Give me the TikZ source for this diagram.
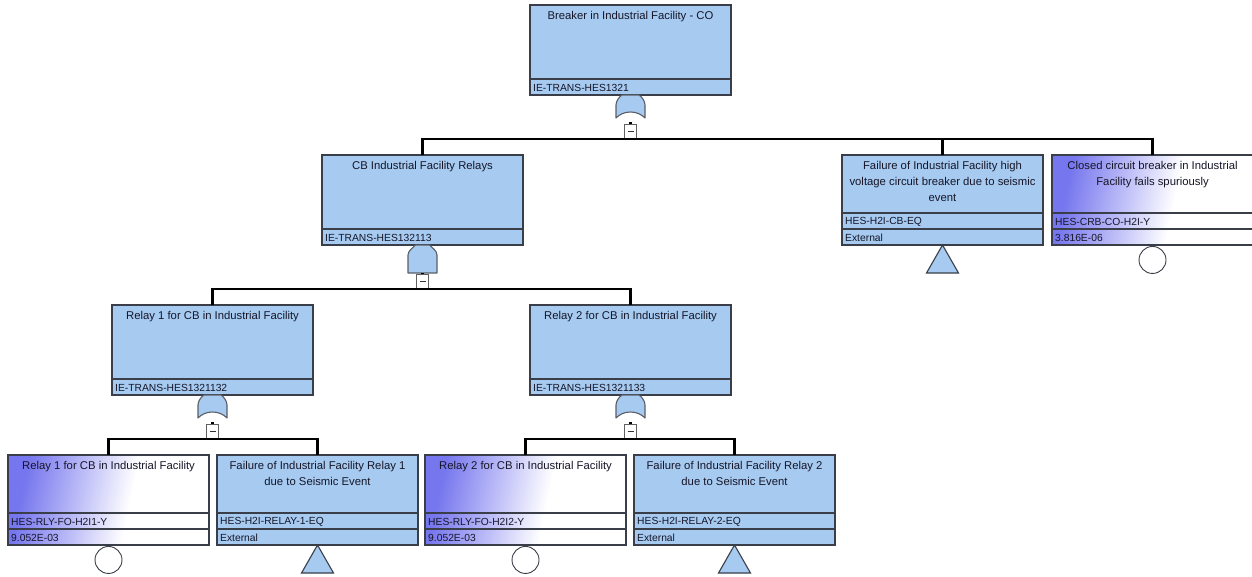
\documentclass[tikz,border=0pt]{standalone}
\usepackage{fontspec}
\setmainfont{Liberation Sans}
\definecolor{boxfill}{RGB}{166,202,240}
\definecolor{boxline}{RGB}{58,62,72}
\definecolor{evblue}{RGB}{118,118,238}
\definecolor{evmid}{RGB}{190,190,248}
\definecolor{txt}{RGB}{22,22,40}
\definecolor{gateline}{RGB}{90,94,104}
% basic event fill: violet at the upper left fading to white
\pgfdeclarehorizontalshading{evshade}{100bp}{color(0bp)=(evblue); color(26bp)=(evblue); color(42bp)=(evmid); color(56bp)=(white); color(100bp)=(white)}

% intermediate event box: title, one row with its id
\newcommand\mkgate[5]{%
  \node[gbox] (#1) at (#2,#3) {};
  \draw[divline] (#2,#3+74) -- (#2+201,#3+74);
  \node[ttl] (#1-t) at (#2+100.5,#3+6) {#4};
  \node[rowtxt] (#1-id) at (#2+3,#3+82.5) {#5};
}
% basic / external event box: title, id row, value row
\newcommand\mkevent[7]{%
  \node[#4] (#1) at (#2,#3) {};
  \draw[divline] (#2,#3+58) -- (#2+201,#3+58);
  \draw[divline] (#2,#3+74) -- (#2+201,#3+74);
  \node[ttl] (#1-t) at (#2+100.5,#3+6) {#5};
  \node[rowtxt] (#1-id) at (#2+3,#3+66.5) {#6};
  \node[rowtxt] (#1-v) at (#2+3,#3+82.5) {#7};
}

\begin{document}
\begin{tikzpicture}[x=1pt,y=-1pt,
  gbox/.style={draw=boxline, line width=1.3pt, fill=boxfill, minimum width=201pt,
    minimum height=90pt, inner sep=0pt, outer sep=0pt, anchor=north west},
  basicbox/.style={gbox, fill=none, shade, shading=evshade, shading angle=-12},
  divline/.style={draw=boxline, line width=1.3pt},
  ttl/.style={text=txt, font=\fontsize{11.3}{16}\selectfont, align=center,
    inner sep=0pt, anchor=north},
  rowtxt/.style={text=txt, font=\fontsize{10.3}{12}\selectfont, inner sep=0pt, anchor=west},
  gatefill/.style={draw=gateline, line width=1.1pt, fill=boxfill, line join=round},
  mbox/.style={draw=gray!75!black, fill=white, line width=0.8pt, minimum width=12pt,
    minimum height=14pt, inner sep=0pt},
  dotn/.style={fill=black, minimum size=2.6pt, inner sep=0pt},
  conn/.style={draw=black, line width=2.6pt},
  evcirc/.style={circle, draw=boxline, line width=0.9pt, fill=white, minimum size=27pt,
    inner sep=0pt, anchor=north},
  tri/.style={draw=boxline, line width=1.1pt, fill=boxfill, line join=miter},
  orgate/.pic={\draw[gatefill] (-8.5,0) -- (8.5,0) .. controls (11,1.5) and (14.5,6) .. (14.5,10)
      -- (14.5,23) .. controls (7,15) and (-7,15) .. (-14.5,23) -- (-14.5,10)
      .. controls (-14.5,6) and (-11,1.5) .. (-8.5,0) -- cycle;},
  andgate/.pic={\draw[gatefill] (-7,0) -- (7,0) .. controls (10,3) and (14.5,6) .. (14.5,10)
      -- (14.5,28) -- (-14.5,28) -- (-14.5,10) .. controls (-14.5,6) and (-10,3) .. (-7,0) -- cycle;},
  minus/.style={mbox, node contents={\textcolor{black!80}{\rule{6pt}{1.1pt}}}}
]
\useasboundingbox (0,0) rectangle (1252,576);

% ---- top event ----
\mkgate{top}{530}{5}{Breaker in Industrial Facility - CO}{IE-TRANS-HES1321}
\pic at (top.south) {orgate};
\node[dotn] (d1) at ([yshift=-28pt]top.south) {};
\node (m1) at ([yshift=-36.5pt]top.south) [minus];
\coordinate (j1) at ([yshift=-44pt]top.south);

% ---- second level ----
\mkgate{cbrel}{322}{155}{CB Industrial Facility Relays}{IE-TRANS-HES132113}
\mkevent{hv}{842}{155}{gbox}{Failure of Industrial Facility high\\voltage circuit breaker due to seismic\\event}{HES-H2I-CB-EQ}{External}
\mkevent{closed}{1052}{155}{basicbox}{Closed circuit breaker in Industrial\\Facility fails spuriously}{HES-CRB-CO-H2I-Y}{3.816E-06}

\draw[conn] (m1.south) -- (j1);
\draw[conn] (cbrel.north) |- (j1) -| (closed.north);
\draw[conn] (hv.north) -- (hv.north |- j1);

\draw[tri] (hv.south) -- ++(16,28) -- ++(-32,0) -- cycle;
\node[evcirc] (closed-c) at ([yshift=-1pt]closed.south) {};

\pic at (cbrel.south) {andgate};
\node[dotn] (d2) at ([yshift=-29pt]cbrel.south) {};
\node (m2) at ([yshift=-36.5pt]cbrel.south) [minus];
\coordinate (j2) at ([yshift=-44pt]cbrel.south);

% ---- third level ----
\mkgate{r1}{112}{305}{Relay 1 for CB in Industrial Facility}{IE-TRANS-HES1321132}
\mkgate{r2}{530}{305}{Relay 2 for CB in Industrial Facility}{IE-TRANS-HES1321133}

\draw[conn] (m2.south) -- (j2);
\draw[conn] (r1.north) |- (j2) -| (r2.north);

\pic at (r1.south) {orgate};
\node[dotn] (d3) at ([yshift=-28pt]r1.south) {};
\node (m3) at ([yshift=-36.5pt]r1.south) [minus];
\coordinate (j3) at ([yshift=-44pt]r1.south);

\pic at (r2.south) {orgate};
\node[dotn] (d4) at ([yshift=-28pt]r2.south) {};
\node (m4) at ([yshift=-36.5pt]r2.south) [minus];
\coordinate (j4) at ([yshift=-44pt]r2.south);

% ---- bottom level ----
\mkevent{b1}{8}{455}{basicbox}{Relay 1 for CB in Industrial Facility}{HES-RLY-FO-H2I1-Y}{9.052E-03}
\mkevent{e1}{217}{455}{gbox}{Failure of Industrial Facility Relay 1\\due to Seismic Event}{HES-H2I-RELAY-1-EQ}{External}
\mkevent{b2}{425}{455}{basicbox}{Relay 2 for CB in Industrial Facility}{HES-RLY-FO-H2I2-Y}{9.052E-03}
\mkevent{e2}{634}{455}{gbox}{Failure of Industrial Facility Relay 2\\due to Seismic Event}{HES-H2I-RELAY-2-EQ}{External}

\draw[conn] (m3.south) -- (j3);
\draw[conn] (b1.north) |- (j3) -| (e1.north);
\draw[conn] (m4.south) -- (j4);
\draw[conn] (b2.north) |- (j4) -| (e2.north);

\node[evcirc] (b1-c) at ([yshift=-1pt]b1.south) {};
\node[evcirc] (b2-c) at ([yshift=-1pt]b2.south) {};
\draw[tri] (e1.south) -- ++(16,28) -- ++(-32,0) -- cycle;
\draw[tri] (e2.south) -- ++(16,28) -- ++(-32,0) -- cycle;
\end{tikzpicture}
\end{document}
